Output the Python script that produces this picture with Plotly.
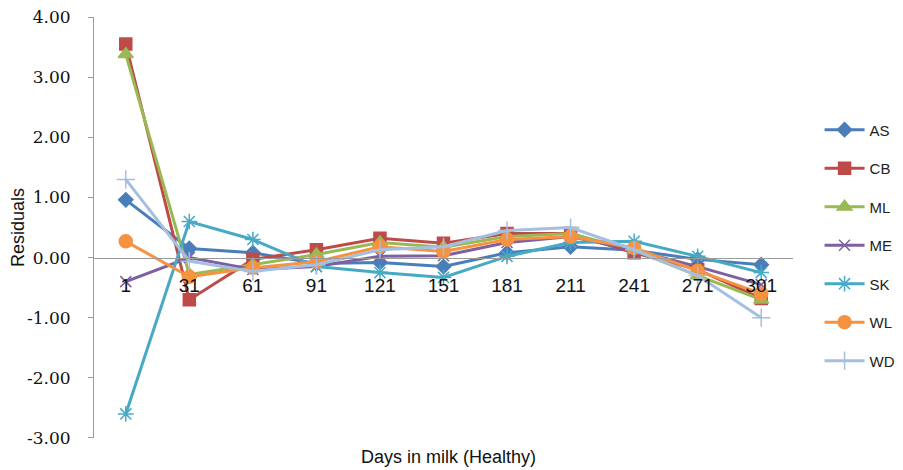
import plotly.graph_objects as go

days = ["1", "31", "61", "91", "121", "151", "181", "211", "241", "271", "301"]
y_ticks = [-3, -2, -1, 0, 1, 2, 3, 4]

AS = [0.96, 0.15, 0.08, -0.10, -0.08, -0.15, 0.08, 0.18, 0.12, -0.03, -0.12]
CB = [3.55, -0.70, -0.03, 0.13, 0.32, 0.24, 0.40, 0.40, 0.08, -0.20, -0.68]
ML = [3.38, -0.28, -0.12, 0.05, 0.25, 0.17, 0.35, 0.40, 0.12, -0.30, -0.70]
ME = [-0.40, 0.00, -0.20, -0.15, 0.02, 0.03, 0.25, 0.35, 0.12, -0.15, -0.45]
SK = [-2.60, 0.60, 0.30, -0.15, -0.25, -0.33, 0.02, 0.25, 0.27, 0.02, -0.25]
WL = [0.27, -0.32, -0.17, -0.07, 0.18, 0.10, 0.30, 0.35, 0.16, -0.22, -0.60]
WD = [1.30, -0.06, -0.23, -0.12, 0.13, 0.18, 0.45, 0.50, 0.13, -0.30, -1.00]

series = [
    ("AS", AS, "#4A7EBB", "diamond", 11),
    ("CB", CB, "#BE4B48", "square", 12),
    ("ML", ML, "#98B954", "triangle-up", 13),
    ("ME", ME, "#7D60A0", "x-thin-open", 11),
    ("SK", SK, "#46AAC5", "asterisk-open", 13),
    ("WL", WL, "#F69240", "circle", 13),
    ("WD", WD, "#A5BFE0", "cross-thin-open", 13),
]

fig = go.Figure()
for name, vals, col, sym, sz in series:
    fig.add_trace(go.Scatter(
        x=days, y=vals, name=name, mode="lines+markers",
        line=dict(color=col, width=3),
        marker=dict(symbol=sym, size=sz, color=col, line=dict(color=col, width=1.5)),
        legendgroup=name,
    ))

fig.update_layout(
    width=895, height=462,
    margin=dict(l=86, r=110, t=9, b=32, autoexpand=False),
    paper_bgcolor="white", plot_bgcolor="white",
    font=dict(family="Liberation Sans", color="#222"),
    legend=dict(x=1.038, y=0.771, xanchor="left", yanchor="top",
                font=dict(family="Liberation Sans", size=15, color="#222"),
                tracegroupgap=16, itemwidth=40),
    xaxis=dict(type="category", range=[-0.5, 10.5], anchor="free", position=3/7,
               showline=True, linecolor="#9a9a9a", linewidth=1, ticks="",
               showgrid=False, zeroline=False, ticklabelstandoff=11, automargin=False,
               tickfont=dict(family="Liberation Sans", size=19, color="#111")),
    yaxis=dict(range=[-3.0005, 4.0005], tickmode="array", tickvals=y_ticks,
               ticktext=[f"{v:.2f}" for v in y_ticks], showgrid=False,
               zeroline=False, showline=True, linecolor="#9a9a9a", linewidth=1,
               ticks="outside", ticklen=5, tickcolor="#9a9a9a", ticklabelstandoff=14,
               automargin=False, ticklabeloverflow="allow",
               tickfont=dict(family="DejaVu Serif", size=17, color="#111"),
               title=dict(text="Residuals", font=dict(family="Liberation Sans", size=18, color="#111"), standoff=6)),
    annotations=[dict(text="Days in milk (Healthy)", x=0.507, y=-0.045, xref="paper", yref="paper",
                      xanchor="center", yanchor="middle", showarrow=False,
                      font=dict(family="Liberation Sans", size=18, color="#111"))],
)

fig.write_html("out.html")
